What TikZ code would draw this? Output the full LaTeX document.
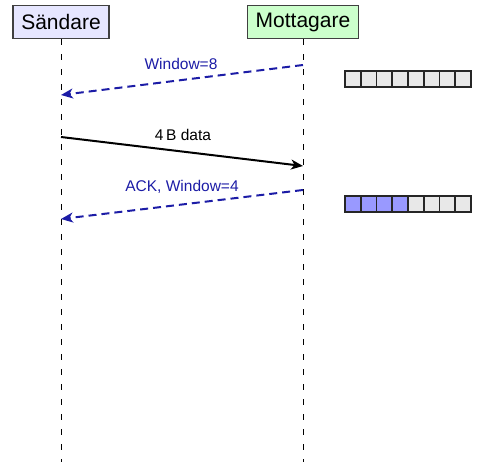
\documentclass[tikz,border=0pt]{standalone}
\usepackage{fontspec}
\setmainfont{Liberation Sans}
\usetikzlibrary{arrows.meta}
\definecolor{ackblue}{RGB}{28,28,166}
\definecolor{senderfill}{RGB}{230,230,255}
\definecolor{receiverfill}{RGB}{204,255,204}
\definecolor{cellgray}{RGB}{232,232,232}
\definecolor{cellblue}{RGB}{153,153,255}
\tikzset{
  actor/.style={draw=black!75, line width=1.3pt, inner sep=0pt, minimum height=33pt, font=\fontsize{21}{23}\selectfont},
  lifeline/.style={line width=1pt, dash pattern=on 6pt off 9pt},
  msg/.style={line width=2pt, -{Stealth[length=12pt,width=10pt,inset=3.5pt]}},
  ackmsg/.style={msg, ackblue, dash pattern=on 8pt off 5pt},
  lbl/.style={font=\fontsize{15.5}{17}\selectfont, inner sep=1pt},
  cell/.style={draw=black!85, line width=1.7pt, minimum width=15.75pt, minimum height=16pt, inner sep=0pt}
}
\begin{document}
\begin{tikzpicture}[x=1pt,y=-1pt]
  \useasboundingbox (0,0) rectangle (479,462);
  % participants
  \node[actor, fill=senderfill, minimum width=96pt] (snd) at (61,22) {Sändare};
  \node[actor, fill=receiverfill, minimum width=111pt] (rcv) at (303,22) {Mottagare};
  \coordinate (sndEnd) at (61,462);
  \coordinate (rcvEnd) at (303,462);
  \draw[lifeline] (snd.south) -- (sndEnd);
  \draw[lifeline] (rcv.south) -- (rcvEnd);
  % message endpoints on the lifelines
  \coordinate (r1) at (303,65);  \coordinate (s1) at (61,95);
  \coordinate (s2) at (61,137);  \coordinate (r2) at (303,166);
  \coordinate (r3) at (303,190); \coordinate (s3) at (61,219);
  \draw[ackmsg] (r1) -- (s1);
  \node[lbl, ackblue] (l1) at (181,64) {Window=8};
  \draw[msg] (s2) -- (r2);
  \node[lbl] (l2) at (183,135) {4\,B data};
  \draw[ackmsg] (r3) -- (s3);
  \node[lbl, ackblue] (l3) at (182,187) {ACK, Window=4};
  % receive buffer: empty, then four bytes filled
  \foreach \i in {0,...,7} {
    \node[cell, fill=cellgray] (a\i) at ({352.9+15.75*\i},79) {};
  }
  \foreach \i in {0,...,7} {
    \ifnum\i<4
      \node[cell, fill=cellblue] (b\i) at ({352.9+15.75*\i},204) {};
    \else
      \node[cell, fill=cellgray] (b\i) at ({352.9+15.75*\i},204) {};
    \fi
  }
\end{tikzpicture}
\end{document}
